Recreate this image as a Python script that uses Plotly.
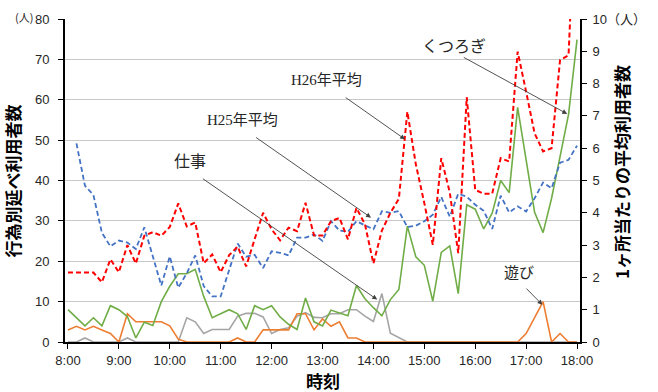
import plotly.graph_objects as go

# time slots (10-minute steps, 8:00 - 18:00)
time_slots = [f"{8 + (m // 60)}:{m % 60:02d}" for m in range(0, 601, 10)]
hour_labels = ["8:00", "9:00", "10:00", "11:00", "12:00", "13:00",
               "14:00", "15:00", "16:00", "17:00", "18:00"]

# right axis (1ヶ所当たりの平均利用者数)
h26_avg = [2.15, 2.15, 2.15, 2.15, 1.85, 2.56, 2.16, 3.0, 2.43, 3.29, 3.4, 3.29, 3.56, 4.29,
           3.58, 3.7, 2.44, 2.71, 2.16, 2.69, 2.95, 2.34, 3.18, 4.0, 3.49, 3.15, 3.54, 3.43,
           4.31, 3.3, 3.3, 3.74, 3.84, 3.18, 4.15, 3.65, 2.43, 3.45, 4.0, 4.43, 7.13, 5.5,
           4.3, 3.01, 5.69, 4.63, 2.75, 7.58, 4.71, 4.59, 4.59, 5.69, 5.59, 8.99, 7.75, 6.46,
           5.9, 6.0, 8.73, 8.88, 14.75]
h25_avg = [None, 6.15, 4.84, 4.55, 3.38, 2.96, 3.14, 3.08, 2.88, 3.55, 2.69, 1.75, 2.65, 1.68,
           2.13, 2.68, 1.73, 1.41, 1.41, 2.24, 3.05, 2.64, 2.7, 2.29, 2.81, 2.76, 2.68, 3.23,
           3.23, 3.33, 3.13, 3.74, 3.45, 3.41, 3.74, 3.61, 3.49, 4.05, 4.0, 4.05, 3.56, 3.6,
           3.74, 3.94, 4.49, 3.88, 4.59, 4.5, 4.25, 4.06, 3.5, 4.53, 4.01, 4.2, 4.04, 4.45,
           4.94, 4.76, 5.55, 5.64, 6.08]

# left axis (行為別延べ利用者数)
kutsurogi = [8, 6, 4, 6, 4, 9, 8, 6.3, 1, 4.9, 4.1, 10, 13.8, 16.9, 16.9, 18, 11.3, 6, 6.9, 8,
             7, 3.1, 9, 8, 9, 6.2, 4.4, 3.1, 10.9, 5, 4, 7.9, 7.2, 6.5, 14, 10.7, 8.5, 6.5,
             10.5, 13, 28.7, 21.1, 19, 10.1, 22.2, 23.8, 12, 34, 32.9, 28, 31.9, 40, 37, 58.1,
             45.1, 32.1, 27.1, 35.6, 45.9, 56.4, 74.9]
shigoto = [0, 0, 1, 0, 0, 0, 0, 1, 0, 0, 0, 0, 0, 0, 6, 5, 2.1, 3.1, 3.1, 3.1, 6.4, 7.1, 7.1,
           6.2, 2.1, 3.1, 3.5, 6.4, 7.3, 6.1, 6, 7, 7, 8, 8, 6.4, 5.1, 12, 2.2, 1.1, 0,
           0, 0, 0, 0, 0, 0, 0, 0, 0, 0, 0, 0, 0, 0, 0, 0, 0, 0, 0, 0]
asobi = [3, 3.9, 3, 3.9, 3, 2.1, 0, 7, 5, 5, 5, 5, 4, 0.7, 0, 0, 0, 0, 0, 0, 1, 0, 0, 3, 3, 3,
         3, 7, 7, 3, 5.7, 3.9, 5, 1, 1, 0, 0, 0, 0, 0, 0, 0, 0, 0, 0, 0, 0, 0, 0, 0, 0, 0, 0,
         0, 2.1, 6, 10, 0, 2.1, 0, 0]

left_ticks = [0, 10, 20, 30, 40, 50, 60, 70, 80]
right_ticks = [0, 1, 2, 3, 4, 5, 6, 7, 8, 9, 10]
right_ticktext = ["0", "1", "2", "3", "4", "5", "6", "7", "8", "9", "10（人）"]

TICKFONT = dict(family="Liberation Sans, Noto Sans CJK JP", size=13, color="#262626")
JP = "Noto Sans CJK JP"
SERIF = "Liberation Serif, Noto Sans CJK JP"

fig = go.Figure()
fig.add_trace(go.Scatter(x=time_slots, y=shigoto, mode="lines",
                         line=dict(color="#A5A5A5", width=1.6), yaxis="y"))
fig.add_trace(go.Scatter(x=time_slots, y=asobi, mode="lines",
                         line=dict(color="#ED7D31", width=1.6), yaxis="y"))
fig.add_trace(go.Scatter(x=time_slots, y=kutsurogi, mode="lines",
                         line=dict(color="#70AD47", width=1.6), yaxis="y"))
fig.add_trace(go.Scatter(x=time_slots, y=h25_avg, mode="lines",
                         line=dict(color="#4472C4", width=1.8, dash="5px,3px"), yaxis="y2"))
fig.add_trace(go.Scatter(x=time_slots, y=h26_avg, mode="lines",
                         line=dict(color="#FF0000", width=2, dash="5px,3px"), yaxis="y2"))

fig.update_layout(
    width=658, height=392,
    margin=dict(l=65, r=68, t=19, b=50),
    paper_bgcolor="white", plot_bgcolor="white",
    showlegend=False,
    xaxis=dict(type="category", range=[-0.35, 60.35],
               tickmode="array", tickvals=hour_labels, ticktext=hour_labels,
               showgrid=False, showline=True, linecolor="black", linewidth=2,
               ticks="outside", ticklen=5, tickcolor="black", tickwidth=1,
               tickfont=TICKFONT, zeroline=False),
    yaxis=dict(range=[0, 80], tickvals=left_ticks, showgrid=True, gridcolor="#C8C8C8",
               gridwidth=1, showline=True, linecolor="black", linewidth=2,
               ticks="outside", ticklen=5, tickcolor="black", tickfont=TICKFONT,
               ticklabelstandoff=6, zeroline=False),
    yaxis2=dict(range=[0, 10], tickvals=right_ticks, ticktext=right_ticktext,
                overlaying="y", side="right", showgrid=False, showline=True,
                linecolor="black", linewidth=2, ticks="outside", ticklen=5,
                tickcolor="black", tickfont=TICKFONT, ticklabelstandoff=3,
                zeroline=False),
)

ann = []
# arrows (tail -> tip)
arrows = [
    (32.56, 60.8, 39.73, 50.2),
    (22.0, 50.9, 35.72, 30.8),
    (15.72, 40.7, 36.45, 10.5),
    (46.47, 70.7, 58.84, 56.5),
    (53.87, 13.6, 55.92, 9.2),
]
for ax_, ay_, x_, y_ in arrows:
    ann.append(dict(x=x_, y=y_, xref="x", yref="y", ax=ax_, ay=ay_, axref="x", ayref="y",
                    text="", showarrow=True, arrowhead=2, arrowsize=1.1, arrowwidth=0.9,
                    arrowcolor="#404040"))
labels = [
    ("H26年平均", 30.48, 64.9, SERIF, 15),
    ("H25年平均", 20.6, 55.0, SERIF, 15),
    ("仕事", 14.34, 44.6, SERIF, 16),
    ("くつろぎ", 45.55, 73.6, JP, 16),
    ("遊び", 53.18, 17.4, JP, 15),
]
for t, x_, y_, fam, sz in labels:
    ann.append(dict(x=x_, y=y_, xref="x", yref="y", text=t, showarrow=False,
                    xanchor="center", yanchor="middle",
                    font=dict(family=fam, size=sz, color="#262626")))
# axis titles
ann.append(dict(x=0.501, y=-0.12, xref="paper", yref="paper", text="<b>時刻</b>",
                xanchor="center", yanchor="middle",
                showarrow=False, font=dict(family=JP, size=17, color="black")))
ann.append(dict(x=-0.101, y=0.50, xref="paper", yref="paper", text="<b>行為別延べ利用者数</b>",
                xanchor="center", yanchor="middle",
                textangle=-90, showarrow=False, font=dict(family=JP, size=17, color="black")))
ann.append(dict(x=1.082, y=0.527, xref="paper", yref="paper",
                text="<b>1ヶ所当たりの平均利用者数</b>", xanchor="center", yanchor="middle",
                textangle=-90, showarrow=False, font=dict(family=JP, size=17, color="black")))
ann.append(dict(x=-0.058, y=1.006, xref="paper", yref="paper", text="(人)",
                xanchor="right", yanchor="middle", showarrow=False,
                font=dict(family=JP, size=11, color="#262626")))
fig.update_layout(annotations=ann)

# remove the default page margin so the figure fills the window exactly
fig.write_html("out.html", config={"displayModeBar": False},
               post_script="document.body.style.margin='0px';")
